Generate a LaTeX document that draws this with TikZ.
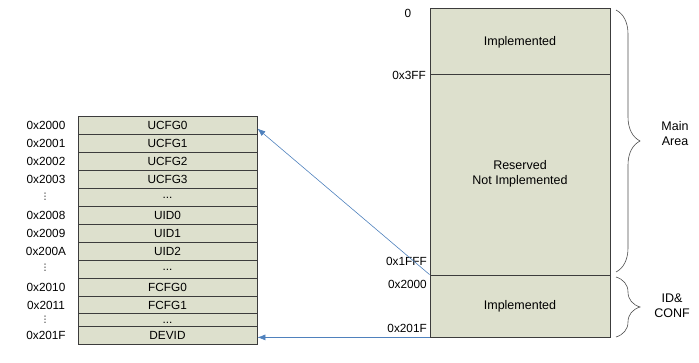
\documentclass[tikz,border=0pt]{standalone}
\usepackage{fontspec}
\setmainfont{Liberation Sans}
\newfontfamily\dejavu{DejaVu Sans}
\usetikzlibrary{decorations.pathreplacing,arrows.meta}
\definecolor{cfill}{RGB}{221,224,205}
\definecolor{cline}{RGB}{60,60,60}
\definecolor{carrow}{RGB}{79,129,189}
\begin{document}
\begin{tikzpicture}[x=1pt,y=-1pt,
  every node/.style={font=\fontsize{11.8}{14.5}\selectfont, inner sep=0pt},
  regbox/.style={draw=cline, fill=cfill, minimum width=179pt, minimum height=18pt, line width=0.8pt},
  areabox/.style={draw=cline, fill=cfill, minimum width=180pt, line width=0.8pt},
  big/.style={font=\fontsize{12.5}{15}\selectfont},
  addr/.style={text height=8.5pt, text depth=0pt},
  dotsv/.style={font=\dejavu\fontsize{9}{9}\selectfont},
  bracestyle/.style={decorate, decoration={brace, amplitude=24pt}, draw=black!70, line width=0.6pt},
  link/.style={draw=carrow, line width=0.6pt, -{Latex[length=8pt,width=6pt]}}]
\useasboundingbox (0,0) rectangle (699,362);
% right memory map
\node[areabox, minimum height=66pt] (impl) at (520,41) {};
\node[areabox, minimum height=201pt] (resv) at (520,174.5) {};
\node[areabox, minimum height=62pt] (idconf) at (520,306) {};
\node[addr, big] (timpl) at (520,41) {Implemented};
\node[align=center, big] (tresv) at (520,174) {Reserved\\Not Implemented};
\node[addr, big] (tidconf) at (520,305) {Implemented};
% right addresses
\node[addr] (a0) at (408,13) {0};
\node[addr, anchor=east] (a3ff) at (426,75) {0x3FF};
\node[addr, anchor=east] (a1fff) at (427,261) {0x1FFF};
\node[addr, anchor=east] (a2000r) at (427,284) {0x2000};
\node[addr, anchor=east] (a201fr) at (427,328) {0x201F};
% braces
\draw[bracestyle] (616,10) -- (616,272);
\draw[bracestyle] (616,277) -- (616,337);
\node[align=center, big] (main) at (675,134) {Main\\Area};
\node[align=center, big] (idc) at (672,306) {ID\&\\CONF};
% left table
\node[regbox] (r1) at (167.5,125.5) {UCFG0};
\node[regbox] (r2) at (167.5,143.5) {UCFG1};
\node[regbox] (r3) at (167.5,161.5) {UCFG2};
\node[regbox] (r4) at (167.5,179.5) {UCFG3};
\node[regbox] (r5) at (167.5,197.5) {...};
\node[regbox] (r6) at (167.5,215.5) {UID0};
\node[regbox] (r7) at (167.5,233.5) {UID1};
\node[regbox] (r8) at (167.5,251.5) {UID2};
\node[regbox] (r9) at (167.5,269.5) {...};
\node[regbox] (r10) at (167.5,287.5) {FCFG0};
\node[regbox] (r11) at (167.5,305.5) {FCFG1};
\node[regbox] (r12) at (167.5,322.5) {...};
\node[regbox, minimum height=17.5pt] (r13) at (167.5,335.25) {DEVID};
% left addresses
\node[addr] (l1) at (46,125.5) {0x2000};
\node[addr] (l2) at (46,143.5) {0x2001};
\node[addr] (l3) at (46,161.5) {0x2002};
\node[addr] (l4) at (46,179.5) {0x2003};
\node[dotsv] (l5) at (45,197) {⋮};
\node[addr] (l6) at (46,215.5) {0x2008};
\node[addr] (l7) at (46,233.5) {0x2009};
\node[addr] (l8) at (46,251.5) {0x200A};
\node[dotsv] (l9) at (45,268) {⋮};
\node[addr] (l10) at (46,287.5) {0x2010};
\node[addr] (l11) at (46,305.5) {0x2011};
\node[dotsv] (l12) at (45,320) {⋮};
\node[addr] (l13) at (46,335) {0x201F};
% connectors
\draw[link] (idconf.north west) -- ([yshift=-3pt]r1.east);
\draw[link] (idconf.south west) -- (idconf.south west -| r13.east);
\end{tikzpicture}
\end{document}
